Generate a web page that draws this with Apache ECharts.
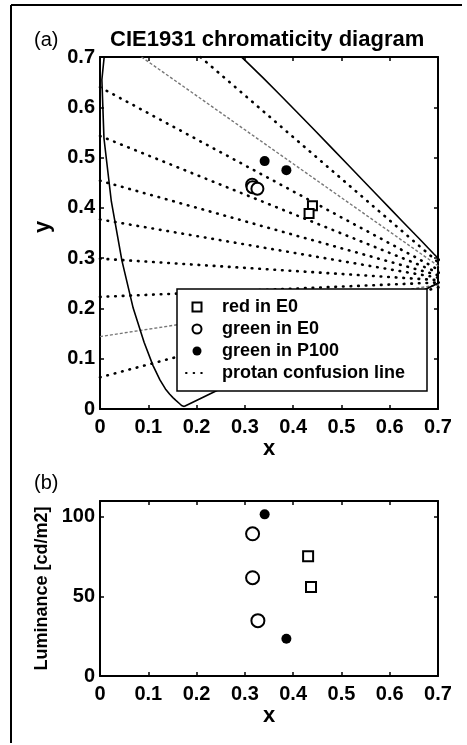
<!DOCTYPE html>
<html>
<head>
<meta charset="utf-8">
<script src="https://cdn.jsdelivr.net/npm/echarts@6/dist/echarts.min.js"></script>
<style>
html,body{margin:0;padding:0;background:#fff;}
#chart{width:467px;height:745px;}
</style>
</head>
<body>
<div id="chart"></div>
<script>
// ---- Data ----
// CIE 1931 spectral locus (380..700 nm, 5 nm steps)
const locusX = [0.1741,0.1740,0.1738,0.1736,0.1733,0.1730,0.1726,0.1721,0.1714,0.1703,0.1689,0.1669,0.1644,0.1611,0.1566,0.1510,0.1440,0.1355,0.1241,0.1096,0.0913,0.0687,0.0454,0.0235,0.0082,0.0039,0.0139,0.0389,0.0743,0.1142,0.1547,0.1929,0.2296,0.2658,0.3016,0.3373,0.3731,0.4087,0.4441,0.4788,0.5125,0.5448,0.5752,0.6029,0.6270,0.6482,0.6658,0.6801,0.6915,0.7006,0.7079,0.7140,0.7190,0.7230,0.7260,0.7283,0.7300,0.7311,0.7320,0.7327,0.7334,0.7340,0.7344,0.7346,0.7347];
const locusY = [0.0050,0.0050,0.0049,0.0049,0.0048,0.0048,0.0048,0.0048,0.0051,0.0058,0.0069,0.0086,0.0109,0.0138,0.0177,0.0227,0.0297,0.0399,0.0578,0.0868,0.1327,0.2007,0.2950,0.4127,0.5384,0.6548,0.7502,0.8120,0.8338,0.8262,0.8059,0.7816,0.7543,0.7243,0.6923,0.6589,0.6245,0.5896,0.5547,0.5202,0.4866,0.4544,0.4242,0.3965,0.3725,0.3514,0.3340,0.3197,0.3083,0.2993,0.2920,0.2859,0.2809,0.2770,0.2740,0.2717,0.2700,0.2689,0.2680,0.2673,0.2666,0.2660,0.2656,0.2654,0.2653];

// protan copunctal point and confusion line start points
const copunctal = [0.7465, 0.2535];
const protanStartX = [0, 0, 0, 0, 0, 0, 0, 0.208];
const protanStartY = [0.063, 0.223, 0.299, 0.377, 0.454, 0.543, 0.640, 0.70];
const protanGrayStartX = [0, 0.086];
const protanGrayStartY = [0.144, 0.70];

// (a) chromaticity of stimuli
const redE0x = [0.440, 0.433];
const redE0y = [0.404, 0.389];
const greenE0x = [0.315, 0.316, 0.326];
const greenE0y = [0.446, 0.441, 0.438];
const greenP100x = [0.341, 0.386];
const greenP100y = [0.493, 0.475];

// (b) luminance of stimuli
const redE0Lx = [0.431, 0.437];
const redE0L = [75.3, 56.0];
const greenE0Lx = [0.316, 0.316, 0.327];
const greenE0L = [89.4, 61.8, 34.8];
const greenP100Lx = [0.341, 0.386];
const greenP100L = [101.6, 23.4];

const xTicksTop = [0, 0.7, 0.1];   // min, max, step
const lumTicks = [0, 110, 50];

// ---- Helpers ----
const FONT = 'Liberation Sans, Arial, Helvetica, sans-serif';
const zip = (a, b) => a.map((v, i) => [v, b[i]]);
const fmtX = v => (Math.abs(v) < 1e-9 ? '0' : v.toFixed(1));

function axisBase(extra) {
  return Object.assign({
    type: 'value',
    axisLine: { show: true, onZero: false, lineStyle: { color: '#000', width: 2 } },
    axisTick: { show: true, inside: true, length: 4, lineStyle: { color: '#000', width: 1.5 } },
    splitLine: { show: false },
    axisLabel: { show: true, color: '#000', fontFamily: FONT, fontSize: 20, fontWeight: 'bold', margin: 8 },
    nameTextStyle: { color: '#000', fontFamily: FONT, fontSize: 22, fontWeight: 'bold' }
  }, extra);
}
function mirror(extra) {
  const a = axisBase(extra);
  a.axisLabel = { show: false };
  return a;
}

const dotStyle = { color: '#000', width: 2.6, type: [0.6, 7], cap: 'round' };
const grayStyle = { color: '#777', width: 1.4, type: [3, 2] };

const series = [];
// spectral locus (closed by purple line)
series.push({
  type: 'line', name: 'locus', xAxisIndex: 0, yAxisIndex: 0,
  data: zip(locusX, locusY).concat([[locusX[0], locusY[0]]]),
  symbol: 'none', lineStyle: { color: '#000', width: 1.6 }, clip: true, z: 3,
  silent: true
});
protanStartX.forEach((sx, i) => {
  series.push({
    type: 'line', name: 'protan confusion line', xAxisIndex: 0, yAxisIndex: 0,
    data: [[sx, protanStartY[i]], copunctal],
    symbol: 'none', itemStyle: { color: '#000' }, lineStyle: dotStyle, clip: true, z: 2, silent: true
  });
});
protanGrayStartX.forEach((sx, i) => {
  series.push({
    type: 'line', name: 'protan gray', xAxisIndex: 0, yAxisIndex: 0,
    data: [[sx, protanGrayStartY[i]], copunctal],
    symbol: 'none', itemStyle: { color: '#777' }, lineStyle: grayStyle, clip: true, z: 2, silent: true
  });
});
function markers(name, xs, ys, xi, yi, symbol, size, filled) {
  return {
    type: 'scatter', name: name, xAxisIndex: xi, yAxisIndex: yi,
    data: zip(xs, ys), symbol: symbol, symbolSize: size, z: 5,
    itemStyle: filled ? { color: '#000', borderColor: '#000', borderWidth: 0, opacity: 1 }
                      : { color: '#fff', borderColor: '#000', borderWidth: 2, opacity: 1 }
  };
}
series.push(markers('red in E0', redE0x, redE0y, 0, 0, 'rect', 9, false));
series.push(markers('green in E0', greenE0x, greenE0y, 0, 0, 'circle', 12, false));
series.push(markers('green in P100', greenP100x, greenP100y, 0, 0, 'circle', 10, true));
series.push(markers('red in E0', redE0Lx, redE0L, 2, 2, 'rect', 10, false));
series.push(markers('green in E0', greenE0Lx, greenE0L, 2, 2, 'circle', 13, false));
series.push(markers('green in P100', greenP100Lx, greenP100L, 2, 2, 'circle', 10, true));

const option = {
  animation: false,
  backgroundColor: '#fff',
  textStyle: { fontFamily: FONT },
  title: [
    { text: 'CIE1931 chromaticity diagram', left: 110, top: 29, padding: 0,
      textStyle: { color: '#000', fontFamily: FONT, fontSize: 22, fontWeight: 'bold' } },
    { text: '(a)', left: 34, top: 30, padding: 0,
      textStyle: { color: '#000', fontFamily: FONT, fontSize: 20, fontWeight: 'normal' } },
    { text: '(b)', left: 34, top: 473, padding: 0,
      textStyle: { color: '#000', fontFamily: FONT, fontSize: 20, fontWeight: 'normal' } }
  ],
  grid: [
    { left: 100, top: 57, width: 338, height: 352, containLabel: false },
    { left: 100, top: 501, width: 338, height: 175, containLabel: false }
  ],
  xAxis: [
    axisBase({ gridIndex: 0, position: 'bottom', min: xTicksTop[0], max: xTicksTop[1], interval: xTicksTop[2],
      axisLabel: { color: '#000', fontFamily: FONT, fontSize: 20, fontWeight: 'bold', margin: 8, formatter: fmtX },
      name: 'x', nameLocation: 'middle', nameGap: 29 }),
    mirror({ gridIndex: 0, position: 'top', min: xTicksTop[0], max: xTicksTop[1], interval: xTicksTop[2] }),
    axisBase({ gridIndex: 1, position: 'bottom', min: xTicksTop[0], max: xTicksTop[1], interval: xTicksTop[2],
      axisLabel: { color: '#000', fontFamily: FONT, fontSize: 20, fontWeight: 'bold', margin: 8, formatter: fmtX },
      name: 'x', nameLocation: 'middle', nameGap: 29 }),
    mirror({ gridIndex: 1, position: 'top', min: xTicksTop[0], max: xTicksTop[1], interval: xTicksTop[2] })
  ],
  yAxis: [
    axisBase({ gridIndex: 0, position: 'left', min: 0, max: 0.7, interval: 0.1,
      axisLabel: { color: '#000', fontFamily: FONT, fontSize: 20, fontWeight: 'bold', margin: 5, formatter: fmtX },
      name: 'y', nameLocation: 'middle', nameGap: 46,
      nameTextStyle: { color: '#000', fontFamily: FONT, fontSize: 22, fontWeight: 'bold', padding: [0, 0, 0, 12] } }),
    mirror({ gridIndex: 0, position: 'right', min: 0, max: 0.7, interval: 0.1 }),
    axisBase({ gridIndex: 1, position: 'left', min: lumTicks[0], max: lumTicks[1], interval: lumTicks[2],
      axisLabel: { color: '#000', fontFamily: FONT, fontSize: 20, fontWeight: 'bold', margin: 5,
        formatter: v => (v % 50 === 0 ? String(v) : '') },
      name: 'Luminance [cd/m2]', nameLocation: 'middle', nameGap: 45,
      nameTextStyle: { color: '#000', fontFamily: FONT, fontSize: 18, fontWeight: 'bold' } }),
    mirror({ gridIndex: 1, position: 'right', min: lumTicks[0], max: lumTicks[1], interval: lumTicks[2] })
  ],
  legend: {
    show: true, orient: 'vertical', left: 177, top: 289,
    padding: [9, 22, 9, 8], itemWidth: 22, itemHeight: 9, itemGap: 4,
    backgroundColor: '#fff', borderColor: '#000', borderWidth: 1.5, borderRadius: 0,
    selectedMode: false, symbolKeepAspect: true,
    textStyle: { color: '#000', fontFamily: FONT, fontSize: 18, fontWeight: 'bold', lineHeight: 18, padding: [0, 0, 0, 9] },
    data: [
      { name: 'red in E0', icon: 'path://M0,0H10V10H0Z', itemStyle: { color: '#fff', borderColor: '#000', borderWidth: 2 } },
      { name: 'green in E0' },
      { name: 'green in P100' },
      { name: 'protan confusion line', itemStyle: { color: 'rgba(0,0,0,0)', borderWidth: 0, opacity: 0 } }
    ]
  },
  graphic: [
    { type: 'line', shape: { x1: 11, y1: 5, x2: 462, y2: 5 }, style: { stroke: '#000', lineWidth: 2 }, silent: true },
    { type: 'line', shape: { x1: 11, y1: 5, x2: 11, y2: 743 }, style: { stroke: '#000', lineWidth: 2 }, silent: true }
  ],
  series: series
};

const chart = echarts.init(document.getElementById('chart'), null, { renderer: 'canvas' });
chart.setOption(option);
</script>
</body>
</html>
